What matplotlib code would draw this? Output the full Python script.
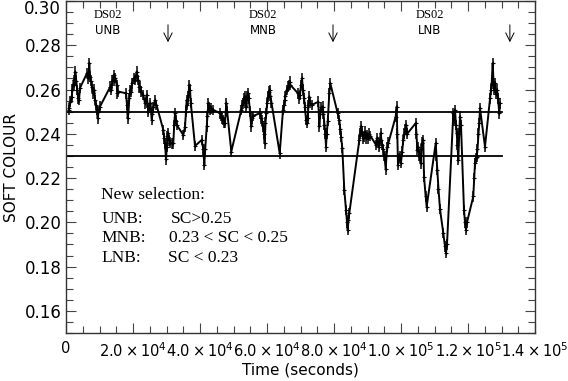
import matplotlib
matplotlib.use("Agg")
import matplotlib.pyplot as plt
from matplotlib.ticker import MultipleLocator, FixedLocator, FixedFormatter

# ---- data ----
time_s = [810, 985, 1343, 1701, 1940, 2298, 2537, 2776, 3045, 3373, 3642, 3880, 4179,
          6268, 6627, 6955, 7164, 7462, 7761, 8149, 8418, 8656, 8955, 9164, 9462, 9701,
          10149, 13224, 13582, 13880, 14238, 14477, 14776, 15134, 15373, 15612,
          17910, 18208, 18417, 18656, 18895, 19194, 19552, 19701, 20208, 20597, 21104,
          21343, 21582, 21940, 22089, 22537, 23074, 23582, 24089, 24328, 24567, 24865,
          25223, 25581, 25820, 26119, 26567, 27014,
          29044, 29313, 29552, 29850, 30089, 30298, 30537, 30895, 31193, 31551,
          32029, 32298, 32537, 32835, 33044,
          35014, 35522, 35820, 36029, 36268, 36507, 36805, 37014, 37253, 38507,
          40506, 40984, 41283, 41551, 42000, 42238, 42477, 42745, 42984, 43432, 43969,
          45969, 46268, 46566, 46865, 47163, 47462, 47850, 48118, 49342,
          52327, 52536, 52835, 53133, 53342, 53581, 53879, 54088, 54327, 54566, 54924,
          55312, 55581, 55820,
          57819, 58208, 58506, 58805, 59103, 59312, 59551, 59790, 60058, 60297, 60536,
          60804, 61043, 61342, 63789,
          64775, 65073, 65282, 65521, 65879, 66267, 66566, 66774, 67013,
          69252, 69551, 69849, 70148, 70446, 70745, 71043, 71342, 71640, 71939, 72147,
          72386, 72625, 72894, 73341,
          75312, 75610, 75909, 76267, 76625, 76864, 77162, 77401, 77610, 77849, 78147,
          78595, 78894,
          81102, 81580, 81879, 82088, 82476, 83073, 83580, 83879, 84087, 84326, 84565,
          87550, 87819, 88058, 88356, 88655, 89043, 89311, 89550, 89849, 90057, 90446,
          90893,
          92535, 92834, 93132, 93431, 93938, 94177, 94416, 94714, 95072, 95430, 95669,
          95968, 96266,
          98415, 98714, 98893, 99102, 99401, 99699, 99998, 100356, 100684, 101042,
          101281, 101580, 101848,
          104385, 104624, 104863, 105221, 105520, 105878, 106117, 106415, 106654,
          106863, 107370, 107669,
          110355, 110594, 110833, 111191, 111639, 112624, 113132, 113430, 113729,
          115609, 115878, 116117, 116415, 116624, 116863, 117102, 117370, 117609, 117908,
          118803, 119102, 119400, 119699,
          121579, 121848, 122087, 122325, 122594, 122833, 123131, 123370, 123579,
          125072,
          126564, 126863, 127071, 127370, 127609, 127818, 128057, 128355, 128654, 128952,
          129340, 129549]

soft_colour = [0.2508, 0.2516, 0.2545, 0.2568, 0.2600, 0.2643, 0.2620, 0.2681, 0.2640,
               0.2598, 0.2560, 0.2553, 0.2607,
               0.2674, 0.2650, 0.2719, 0.2658, 0.2640, 0.2610, 0.2583, 0.2600, 0.2553,
               0.2530, 0.2508, 0.2470, 0.2500,
               0.2523, 0.2613, 0.2600, 0.2640, 0.2666, 0.2640, 0.2652, 0.2621, 0.2583,
               0.2591,
               0.2583, 0.2530, 0.2470, 0.2500, 0.2560, 0.2598, 0.2590, 0.2628, 0.2651,
               0.2643, 0.2681,
               0.2660, 0.2643, 0.2610, 0.2613, 0.2590, 0.2576, 0.2538, 0.2576, 0.2540,
               0.2500, 0.2516,
               0.2540, 0.2463, 0.2490, 0.2520, 0.2553, 0.2530,
               0.2418, 0.2380, 0.2357, 0.2285, 0.2340, 0.2390, 0.2403, 0.2370, 0.2360,
               0.2357,
               0.2357, 0.2440, 0.2493, 0.2460, 0.2440,
               0.2395, 0.2430, 0.2500, 0.2553, 0.2530, 0.2568, 0.2621, 0.2600, 0.2540,
               0.2345,
               0.2372, 0.2330, 0.2260, 0.2330, 0.2433, 0.2480, 0.2538, 0.2520, 0.2508,
               0.2515, 0.2508,
               0.2493, 0.2480, 0.2470, 0.2463, 0.2450, 0.2448, 0.2538, 0.2500, 0.2320,
               0.2508, 0.2530, 0.2538, 0.2560, 0.2568, 0.2540, 0.2520, 0.2570, 0.2583,
               0.2560, 0.2500,
               0.2433, 0.2470, 0.2480,
               0.2493, 0.2470, 0.2460, 0.2433, 0.2400, 0.2357, 0.2450, 0.2493, 0.2540,
               0.2568, 0.2590,
               0.2598, 0.2570, 0.2540, 0.2312,
               0.2508, 0.2530, 0.2553, 0.2570, 0.2598, 0.2613, 0.2620, 0.2636, 0.2620,
               0.2583, 0.2560, 0.2576, 0.2620, 0.2650, 0.2600, 0.2560, 0.2520, 0.2463,
               0.2448, 0.2470,
               0.2530, 0.2568, 0.2540, 0.2530,
               0.2545, 0.2433, 0.2490, 0.2520, 0.2523, 0.2490, 0.2440, 0.2400, 0.2342,
               0.2400, 0.2460,
               0.2583, 0.2628,
               0.2493, 0.2463, 0.2420, 0.2387, 0.2335, 0.2147, 0.2056, 0.2000, 0.1966,
               0.2010, 0.2041,
               0.2372, 0.2400, 0.2433, 0.2410, 0.2380, 0.2387, 0.2410, 0.2380, 0.2395,
               0.2380, 0.2400,
               0.2390,
               0.2350, 0.2380, 0.2360, 0.2340, 0.2403, 0.2370, 0.2350, 0.2330, 0.2300,
               0.2240, 0.2300,
               0.2340, 0.2360,
               0.2478, 0.2523, 0.2400, 0.2260, 0.2290, 0.2300, 0.2270, 0.2320, 0.2372,
               0.2400,
               0.2420, 0.2440, 0.2400,
               0.2448, 0.2400, 0.2327, 0.2340, 0.2300, 0.2267, 0.2330, 0.2360, 0.2372,
               0.2207, 0.2117, 0.2071,
               0.2357, 0.2300, 0.2237, 0.2150, 0.2060, 0.1951, 0.1891, 0.1861, 0.1900,
               0.2493, 0.2460, 0.2508, 0.2440, 0.2403, 0.2350, 0.2282, 0.2400, 0.2478,
               0.2440,
               0.2056, 0.2000, 0.1966, 0.2000,
               0.2117, 0.2200, 0.2267, 0.2290, 0.2297, 0.2330, 0.2400, 0.2448, 0.2516,
               0.2342,
               0.2560, 0.2600, 0.2628, 0.2719, 0.2640, 0.2600, 0.2628, 0.2580, 0.2600,
               0.2560,
               0.2493, 0.2538]

sc_error = 0.0024

thresholds = [0.25, 0.23]
threshold_end = 130000

arrow_times = [30450, 79700, 132500]
arrow_top, arrow_bottom = 0.2905, 0.2801

state_times = [12540, 58800, 108660]
state_names = ["UNB", "MNB", "LNB"]
dataset_label = "DS02"

xtick_values = [0, 20000, 40000, 60000, 80000, 100000, 120000, 140000]
xtick_labels = ["0", r"$2.0\times10^{4}$", r"$4.0\times10^{4}$", r"$6.0\times10^{4}$",
                r"$8.0\times10^{4}$", r"$1.0\times10^{5}$", r"$1.2\times10^{5}$",
                r"$1.4\times10^{5}$"]

selection_title = "New selection:"
selection_names = ["UNB:", "MNB:", "LNB:"]
selection_rules = ["SC>0.25", "0.23 < SC < 0.25", "SC < 0.23"]

# ---- figure ----
fig = plt.figure(figsize=(5.68, 3.81), dpi=100)
ax = fig.add_axes([66 / 568, 1 - 333 / 381, 469 / 568, 332 / 381])

ax.errorbar(time_s, soft_colour, yerr=sc_error, fmt='-', color='black', lw=1.4,
            elinewidth=1.1, marker='+', ms=3, mew=0.8, capsize=0, zorder=3)

for th in thresholds:
    ax.plot([0, threshold_end], [th, th], color='black', lw=1.3, zorder=2)

for t in arrow_times:
    ax.annotate("", xy=(t, arrow_bottom), xytext=(t, arrow_top),
                arrowprops=dict(arrowstyle='->,head_length=0.6,head_width=0.3',
                                color='black', lw=0.7))

for t, name in zip(state_times, state_names):
    ax.text(t, 0.2937, dataset_label, ha='center', va='center', fontsize=9,
            family='Liberation Serif')
    ax.text(t, 0.2866, name, ha='center', va='center', fontsize=8.5,
            family='DejaVu Sans')

serif = dict(fontsize=12.5, family='Liberation Serif', va='center', ha='left')
ax.text(10500, 0.2124, selection_title, **serif)
rows_y = [0.2016, 0.1930, 0.1840]
rule_x = [31200, 30600, 30300]
for y, nm, rx, rule in zip(rows_y, selection_names, rule_x, selection_rules):
    ax.text(10500, y, nm, **serif)
    ax.text(rx, y, rule, **serif)

ax.set_xlim(0, 140000)
ax.set_ylim(0.15, 0.30)

ax.xaxis.set_major_locator(FixedLocator(xtick_values))
ax.xaxis.set_major_formatter(FixedFormatter(xtick_labels))
ax.xaxis.set_minor_locator(MultipleLocator(5000))
ax.yaxis.set_major_locator(MultipleLocator(0.02))
ax.yaxis.set_minor_locator(MultipleLocator(0.005))
ax.yaxis.set_major_formatter(
    plt.FuncFormatter(lambda v, p: "" if v > 0.295 else f"{v:.2f}"))

ax.tick_params(which='both', direction='in', top=True, right=True, color='#444444',
               width=0.8)
ax.tick_params(which='major', length=7)
ax.tick_params(which='minor', length=5)
ax.tick_params(axis='x', pad=6, labelsize=10.5)
ax.tick_params(axis='y', pad=3, labelsize=12)

# top y label kept inside the figure
ax.annotate("0.30", xy=(0, 0.30), xycoords=('axes fraction', 'data'),
            xytext=(-3.5, 0.5), textcoords='offset points', ha='right', va='top',
            fontsize=12)

for s in ax.spines.values():
    s.set_color('#333333')
    s.set_linewidth(1.0)

ax.set_xlabel("Time (seconds)", fontsize=11, labelpad=2)
ax.set_ylabel("SOFT COLOUR", fontsize=11, labelpad=4)

fig.savefig("out.png", dpi=100)
